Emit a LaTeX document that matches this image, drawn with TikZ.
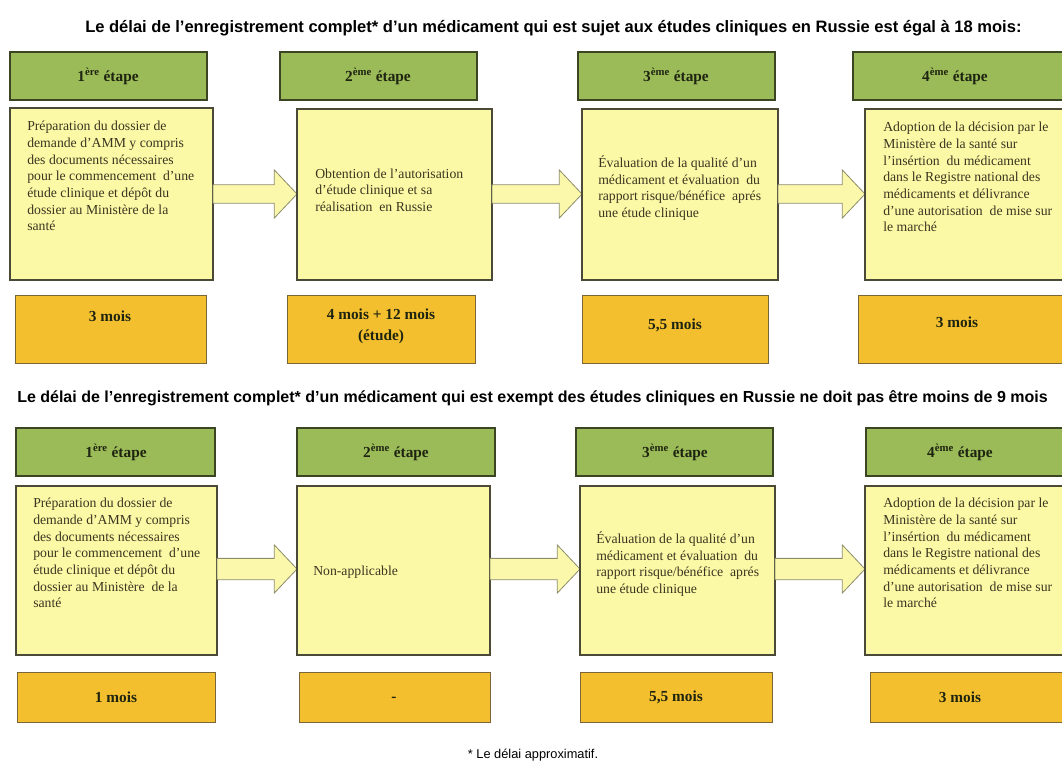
\documentclass[tikz,border=0pt]{standalone}
\usepackage{fontspec}
\setmainfont{Liberation Serif}
\newfontfamily\arialf{Liberation Sans}
\usetikzlibrary{calc}
\definecolor{gfill}{HTML}{9BBB59}
\definecolor{gdraw}{HTML}{3B4524}
\definecolor{yfill}{HTML}{FCF9A6}
\definecolor{ydraw}{HTML}{4A4A36}
\definecolor{ofill}{HTML}{F3BF2E}
\definecolor{odraw}{HTML}{7A6638}
\definecolor{afill}{HTML}{FBF8AC}
\definecolor{adraw}{HTML}{8D8C6A}
\definecolor{btext}{HTML}{3A3520}
\definecolor{htext}{HTML}{1E2410}
\tikzset{
  greenbox/.style={draw=gdraw, fill=gfill, line width=1.2pt, inner sep=0pt, outer sep=0pt},
  yellowbox/.style={draw=ydraw, fill=yfill, line width=1pt, inner sep=0pt, outer sep=0pt},
  orangebox/.style={draw=odraw, fill=ofill, line width=0.7pt, inner sep=0pt, outer sep=0pt},
  blockarr/.style={draw=adraw, fill=afill, line width=0.6pt, line join=miter},
  titletext/.style={font=\arialf\bfseries\fontsize{12.4}{14}\selectfont, text=black, inner sep=0pt},
  titletwo/.style={font=\arialf\bfseries\fontsize{12}{14}\selectfont, text=black, inner sep=0pt},
  headtext/.style={font=\bfseries\fontsize{11.5}{13}\selectfont, text=htext, inner sep=0pt},
  bodytext/.style={font=\fontsize{10.3}{12.5}\selectfont, text=btext, align=left, inner sep=0pt},
  durtext/.style={font=\bfseries\fontsize{11.5}{15.5}\selectfont, text=htext, align=center, inner sep=0pt},
  foottext/.style={font=\arialf\fontsize{9.6}{11}\selectfont, text=black, inner sep=0pt}
}
\newcommand\bx[6]{\node[#2, minimum width={(#5-#3)*0.75pt}, minimum height={(#6-#4)*0.75pt}] (#1) at ({(#3+#5)/2},{(#4+#6)/2}) {};}
\newcommand\barrow[4]{%
  \draw[blockarr] let \p1=(#1.east), \p2=(#2.west), \p3=(0,#3) in
  (\x1,\y3+#4) -- (\x2-17pt,\y3+#4) -- (\x2-17pt,\y3+18pt) -- (\x2,\y3)
  -- (\x2-17pt,\y3-18pt) -- (\x2-17pt,\y3-#4) -- (\x1,\y3-#4) -- cycle;}
\begin{document}
\begin{tikzpicture}[x=0.75pt,y=-0.75pt]
\useasboundingbox (0,0) rectangle (1062,769);
\clip (0,0) rectangle (1062,769);
\fill[white] (0,0) rectangle (1062,769);

% ---------- Section 1 ----------
\node[titletext, anchor=west] (title1) at (85,28) {Le délai de l’enregistrement complet* d’un médicament qui est sujet aux études cliniques en Russie est égal à 18 mois:};

\bx{G11}{greenbox}{10}{52}{207}{100}
\bx{G12}{greenbox}{280}{52}{477}{100}
\bx{G13}{greenbox}{578}{52}{775}{100}
\bx{G14}{greenbox}{853}{52}{1075}{100}
\node[headtext] (h11) at (108,76) {1\textsuperscript{ère} étape};
\node[headtext] (h12) at (378,76) {2\textsuperscript{ème} étape};
\node[headtext] (h13) at (676,76) {3\textsuperscript{ème} étape};
\node[headtext] (h14) at (955,76) {4\textsuperscript{ème} étape};

\bx{Y11}{yellowbox}{10}{108}{213}{280}
\bx{Y12}{yellowbox}{297}{109}{492}{280}
\bx{Y13}{yellowbox}{582}{109}{778}{280}
\bx{Y14}{yellowbox}{865}{109}{1075}{280}
\barrow{Y11}{Y12}{194}{6.9pt}
\barrow{Y12}{Y13}{194}{6.9pt}
\barrow{Y13}{Y14}{194}{6.9pt}
\draw[ydraw, line width=1pt] (Y12.north west) -- (Y12.south west) (Y13.north west) -- (Y13.south west) (Y14.north west) -- (Y14.south west);

\node[bodytext, anchor=north west] (t11) at (27,121) {Préparation du dossier de\\demande d’AMM y compris\\des documents nécessaires\\pour le commencement \ d’une\\étude clinique et dépôt du\\dossier au Ministère de la\\santé};
\node[bodytext, anchor=west] (t12) at (315,190) {Obtention de l’autorisation\\d’étude clinique et sa\\réalisation \ en Russie};
\node[bodytext, anchor=west] (t13) at (598,188) {Évaluation de la qualité d’un\\médicament et évaluation \ du\\rapport risque/bénéfice \ aprés\\une étude clinique};
\node[bodytext, anchor=north west] (t14) at (883,122) {Adoption de la décision par le\\Ministère de la santé sur\\l’insértion \ du médicament\\dans le Registre national des\\médicaments et délivrance\\d’une autorisation \ de mise sur\\le marché};

\bx{O11}{orangebox}{15}{295}{206}{363}
\bx{O12}{orangebox}{287}{295}{475}{363}
\bx{O13}{orangebox}{582}{295}{768}{363}
\bx{O14}{orangebox}{858}{295}{1075}{363}
\node[durtext] (d11) at (110,316) {3 mois};
\node[durtext] (d12) at (381,326) {4 mois + 12 mois\\(étude)};
\node[durtext] (d13) at (675,325) {5,5 mois};
\node[durtext] (d14) at (957,322) {3 mois};

% ---------- Section 2 ----------
\node[titletwo, anchor=west] (title2) at (17,398) {Le délai de l’enregistrement complet* d’un médicament qui est exempt des études cliniques en Russie ne doit pas être moins de 9 mois};

\bx{G21}{greenbox}{16}{428}{215}{476}
\bx{G22}{greenbox}{297}{428}{495}{476}
\bx{G23}{greenbox}{576}{428}{773}{476}
\bx{G24}{greenbox}{866}{428}{1075}{476}
\node[headtext] (h21) at (116,452) {1\textsuperscript{ère} étape};
\node[headtext] (h22) at (396,452) {2\textsuperscript{ème} étape};
\node[headtext] (h23) at (675,452) {3\textsuperscript{ème} étape};
\node[headtext] (h24) at (960,452) {4\textsuperscript{ème} étape};

\bx{Y21}{yellowbox}{16}{486}{217}{655}
\bx{Y22}{yellowbox}{297}{486}{490}{655}
\bx{Y23}{yellowbox}{580}{486}{775}{655}
\bx{Y24}{yellowbox}{865}{486}{1075}{655}
\barrow{Y21}{Y22}{569}{8pt}
\barrow{Y22}{Y23}{569}{8pt}
\barrow{Y23}{Y24}{569}{8pt}
\draw[ydraw, line width=1pt] (Y22.north west) -- (Y22.south west) (Y23.north west) -- (Y23.south west) (Y24.north west) -- (Y24.south west);

\node[bodytext, anchor=north west] (t21) at (33,498) {Préparation du dossier de\\demande d’AMM y compris\\des documents nécessaires\\pour le commencement \ d’une\\étude clinique et dépôt du\\dossier au Ministère \ de la\\santé};
\node[bodytext, anchor=west] (t22) at (313,572) {Non-applicable};
\node[bodytext, anchor=west] (t23) at (596,564) {Évaluation de la qualité d’un\\médicament et évaluation \ du\\rapport risque/bénéfice \ aprés\\une étude clinique};
\node[bodytext, anchor=north west] (t24) at (883,498) {Adoption de la décision par le\\Ministère de la santé sur\\l’insértion \ du médicament\\dans le Registre national des\\médicaments et délivrance\\d’une autorisation \ de mise sur\\le marché};

\bx{O21}{orangebox}{17}{672}{215}{722}
\bx{O22}{orangebox}{299}{672}{490}{722}
\bx{O23}{orangebox}{580}{672}{772}{722}
\bx{O24}{orangebox}{870}{672}{1075}{722}
\node[durtext] (d21) at (116,697) {1 mois};
\node[durtext] (d22) at (394,699) {-};
\node[durtext] (d23) at (676,697) {5,5 mois};
\node[durtext] (d24) at (960,697) {3 mois};

\node[foottext] (note) at (533,755) {* Le délai approximatif.};
\end{tikzpicture}
\end{document}
